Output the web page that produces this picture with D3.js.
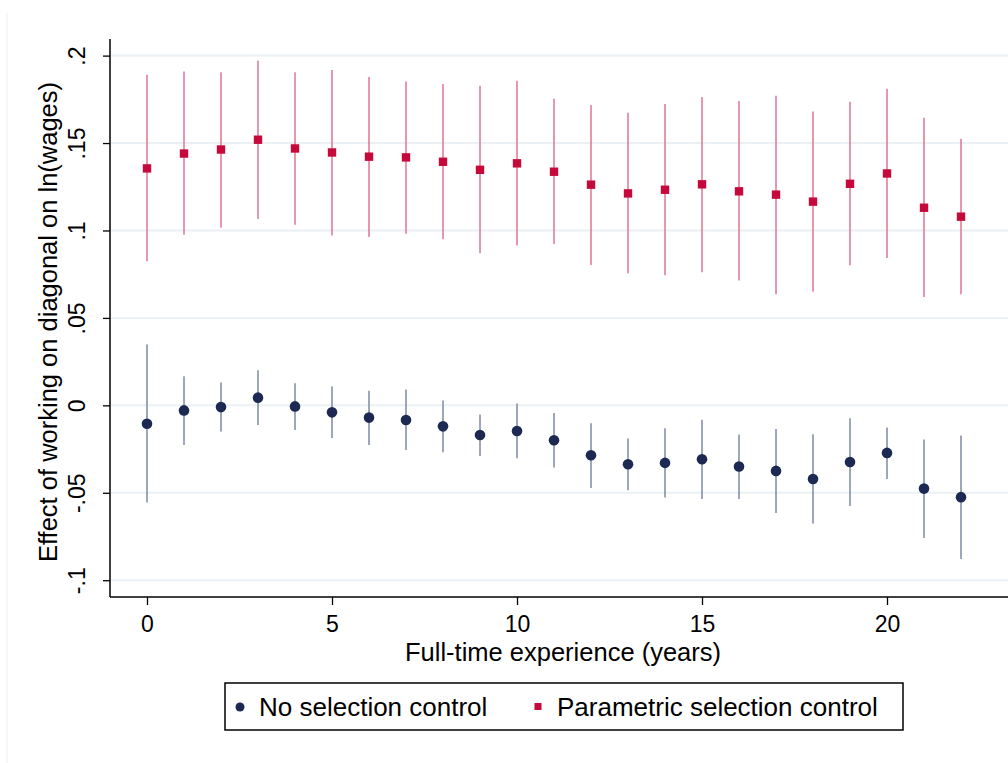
<!DOCTYPE html>
<html>
<head>
<meta charset="utf-8">
<script src="https://cdn.jsdelivr.net/npm/d3@7"></script>
<style>
  html, body { margin: 0; padding: 0; background: #fff; }
  svg { display: block; font-family: "Liberation Sans", Arial, sans-serif; }
</style>
</head>
<body>
<svg id="chart" width="1008" height="763"></svg>
<script>
// ---- data ----
const experience = [0,1,2,3,4,5,6,7,8,9,10,11,12,13,14,15,16,17,18,19,20,21,22];

const noSelEst = [-0.0105,-0.0029,-0.0010,0.0044,-0.0006,-0.0040,-0.0070,-0.0084,-0.0120,-0.0170,-0.0147,
                  -0.0200,-0.0285,-0.0337,-0.0329,-0.0308,-0.0350,-0.0375,-0.0421,-0.0324,-0.0272,-0.0476,-0.0525];
const noSelLo  = [-0.0556,-0.0227,-0.0150,-0.0112,-0.0141,-0.0187,-0.0227,-0.0255,-0.0268,-0.0289,-0.0303,
                  -0.0356,-0.0472,-0.0485,-0.0527,-0.0535,-0.0535,-0.0615,-0.0675,-0.0575,-0.0421,-0.0758,-0.0878];
const noSelHi  = [0.0348,0.0167,0.0131,0.0200,0.0127,0.0108,0.0084,0.0090,0.0027,-0.0053,0.0010,
                  -0.0044,-0.0103,-0.0190,-0.0131,-0.0082,-0.0167,-0.0135,-0.0166,-0.0074,-0.0126,-0.0196,-0.0173];

const paramEst = [0.1355,0.1440,0.1463,0.1519,0.1469,0.1446,0.1422,0.1418,0.1393,0.1347,0.1384,
                  0.1336,0.1262,0.1212,0.1233,0.1264,0.1224,0.1205,0.1165,0.1267,0.1326,0.1130,0.1079];
const paramLo  = [0.0824,0.0975,0.1016,0.1066,0.1033,0.0972,0.0963,0.0982,0.0950,0.0870,0.0914,
                  0.0923,0.0803,0.0755,0.0744,0.0761,0.0714,0.0636,0.0649,0.0801,0.0843,0.0620,0.0636];
const paramHi  = [0.1890,0.1909,0.1905,0.1970,0.1905,0.1918,0.1878,0.1852,0.1837,0.1827,0.1856,
                  0.1753,0.1717,0.1673,0.1724,0.1764,0.1740,0.1770,0.1680,0.1736,0.1810,0.1644,0.1524];

const yTicks = [-0.1,-0.05,0,0.05,0.1,0.15,0.2];
const yTickLabels = ["-.1","-.05","0",".05",".1",".15",".2"];
const xTicks = [0,5,10,15,20];

const seriesNames = ["No selection control","Parametric selection control"];
const xTitle = "Full-time experience (years)";
const yTitle = "Effect of working on diagonal on ln(wages)";

// ---- layout ----
const svg = d3.select("#chart");
const pLeft = 110, pRight = 1008, pTop = 39, pBottom = 597;

const x = d3.scaleLinear().domain([-1, 23.27]).range([pLeft, pRight]);
const y = d3.scaleLinear().domain([-0.1096, 0.2095]).range([pBottom, pTop]);

const blueMarker = "#1c2a53", blueLine = "#7d89a4";
const redMarker = "#c6093b", redLine = "#e07590";

// faint graph-region edge
svg.append("line").attr("x1", 7).attr("x2", 7).attr("y1", 13).attr("y2", 763)
  .attr("stroke", "#eeeeee").attr("stroke-width", 1);

// gridlines
svg.append("g").selectAll("line").data(yTicks).join("line")
  .attr("x1", pLeft + 1).attr("x2", pRight)
  .attr("y1", d => y(d)).attr("y2", d => y(d))
  .attr("stroke", "#eaf0f3").attr("stroke-width", 2);

// y axis
const yAxis = d3.axisLeft(y).tickValues(yTicks).tickSize(7)
  .tickFormat((d, i) => yTickLabels[i]);
const gy = svg.append("g").attr("transform", `translate(${pLeft},0)`).call(yAxis);
gy.select(".domain").attr("d", `M0,${pTop}V${pBottom}`).attr("stroke", "#000").attr("stroke-width", 1.5);
gy.selectAll(".tick line").attr("stroke", "#000").attr("stroke-width", 1.3);
gy.selectAll(".tick text")
  .attr("font-size", 23).attr("fill", "#000")
  .attr("x", null).attr("dy", null)
  .attr("text-anchor", "middle")
  .attr("transform", "translate(-25,0) rotate(-90)");

// x axis
const xAxis = d3.axisBottom(x).tickValues(xTicks).tickSize(8).tickFormat(d3.format("d"));
const gx = svg.append("g").attr("transform", `translate(0,${pBottom})`).call(xAxis);
gx.select(".domain").attr("d", `M${pLeft},0H${pRight}`).attr("stroke", "#000").attr("stroke-width", 1.5);
gx.selectAll(".tick line").attr("stroke", "#000").attr("stroke-width", 1.3);
gx.selectAll(".tick text").attr("font-size", 23).attr("fill", "#000")
  .attr("y", 35).attr("dy", null);

// axis titles
svg.append("text").attr("x", 563).attr("y", 661)
  .attr("text-anchor", "middle").attr("font-size", 25.5).attr("fill", "#000")
  .text(xTitle);
svg.append("text")
  .attr("transform", `translate(57,${(pTop + pBottom) / 2 + 4}) rotate(-90)`)
  .attr("text-anchor", "middle").attr("font-size", 25.5).attr("fill", "#000")
  .text(yTitle);

// series
function drawSeries(est, lo, hi, lineColor, markerColor, shape) {
  const g = svg.append("g");
  g.selectAll("line").data(experience).join("line")
    .attr("x1", (d) => x(d)).attr("x2", (d) => x(d))
    .attr("y1", (d, i) => y(lo[i])).attr("y2", (d, i) => y(hi[i]))
    .attr("stroke", lineColor).attr("stroke-width", 1.5);
  if (shape === "circle") {
    g.selectAll("circle").data(experience).join("circle")
      .attr("cx", d => x(d)).attr("cy", (d, i) => y(est[i])).attr("r", 5.3)
      .attr("fill", markerColor);
  } else {
    g.selectAll("rect").data(experience).join("rect")
      .attr("x", d => x(d) - 4.2).attr("y", (d, i) => y(est[i]) - 4.2)
      .attr("width", 8.4).attr("height", 8.4)
      .attr("fill", markerColor);
  }
}
drawSeries(paramEst, paramLo, paramHi, redLine, redMarker, "square");
drawSeries(noSelEst, noSelLo, noSelHi, blueLine, blueMarker, "circle");

// legend
const lg = svg.append("g");
lg.append("rect").attr("x", 225).attr("y", 683).attr("width", 678).attr("height", 47)
  .attr("fill", "#fff").attr("stroke", "#000").attr("stroke-width", 1.5);
lg.append("circle").attr("cx", 240).attr("cy", 707).attr("r", 4.5).attr("fill", blueMarker);
lg.append("text").attr("x", 259).attr("y", 716).attr("font-size", 26).attr("fill", "#000")
  .text(seriesNames[0]);
lg.append("rect").attr("x", 534.5).attr("y", 703).attr("width", 7).attr("height", 7).attr("fill", redMarker);
lg.append("text").attr("x", 557).attr("y", 716).attr("font-size", 26).attr("fill", "#000")
  .text(seriesNames[1]);
</script>
</body>
</html>
